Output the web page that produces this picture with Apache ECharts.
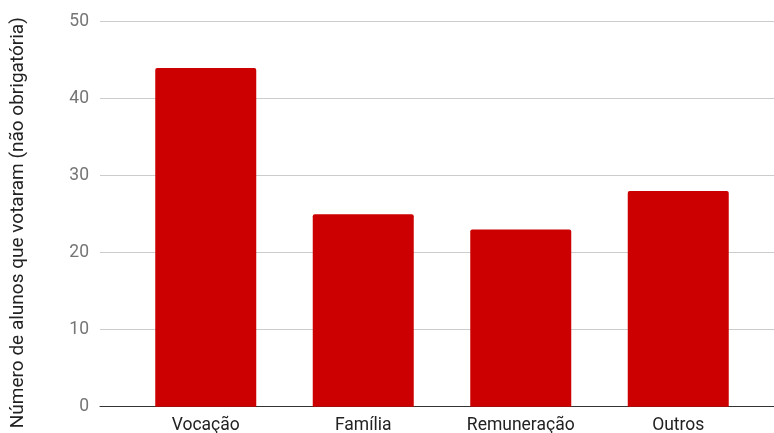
<!DOCTYPE html>
<html>
<head>
<meta charset="utf-8">
<script src="https://cdn.jsdelivr.net/npm/echarts@6/dist/echarts.min.js"></script>
<style>
  html, body { margin: 0; padding: 0; background: #fff; }
  #chart { width: 774px; height: 433px; }
</style>
</head>
<body>
<div id="chart"></div>
<script>
var categories = ["Vocação", "Família", "Remuneração", "Outros"];
var votes = [44, 25, 23, 28];
var yTicks = [0, 10, 20, 30, 40, 50];

var chart = echarts.init(document.getElementById('chart'));

var font = "Roboto, Arial, sans-serif";

var option = {
    animation: false,
    textStyle: { fontFamily: font },
    grid: [
        // outer grid: only gridlines + y labels, full width like the original
        { left: 100, right: 0, top: 21.7, bottom: 26.3, outerBoundsMode: 'none', containLabel: false },
        // inner grid: the bars
        { left: 127, right: 17, top: 21.7, bottom: 26.3, outerBoundsMode: 'none', containLabel: false }
    ],
    xAxis: [
        {
            gridIndex: 0, type: 'value', min: 0, max: 1,
            axisLine: { show: true, onZero: false, lineStyle: { color: '#333', width: 1 } },
            axisTick: { show: false }, axisLabel: { show: false }, splitLine: { show: false }
        },
        {
            gridIndex: 1, type: 'category', data: categories,
            axisLine: { show: false }, axisTick: { show: false },
            axisLabel: { color: '#222', fontSize: 17.5, margin: 10, fontFamily: font }
        }
    ],
    yAxis: [
        {
            gridIndex: 0, type: 'value', min: yTicks[0], max: yTicks[yTicks.length - 1], interval: 10,
            name: 'Número de alunos que votaram (não obrigatória)',
            nameLocation: 'middle', nameGap: 72, nameRotate: 90,
            nameTextStyle: { color: '#222', fontSize: 19, fontFamily: font, padding: [0, 17, 0, 0] },
            axisLine: { show: false }, axisTick: { show: false },
            axisLabel: { color: '#757575', fontSize: 17.5, margin: 11, fontFamily: font },
            splitLine: { lineStyle: { color: '#cccccc', width: 1 } }
        },
        {
            gridIndex: 1, type: 'value', min: 0, max: 50, interval: 10,
            axisLine: { show: false }, axisTick: { show: false },
            axisLabel: { show: false }, splitLine: { show: false }
        }
    ],
    series: [{
        type: 'bar',
        xAxisIndex: 1,
        yAxisIndex: 1,
        data: votes,
        barWidth: 101,
        itemStyle: { color: '#cc0000', borderRadius: [2, 2, 0, 0] }
    }]
};

chart.setOption(option);
</script>
</body>
</html>
